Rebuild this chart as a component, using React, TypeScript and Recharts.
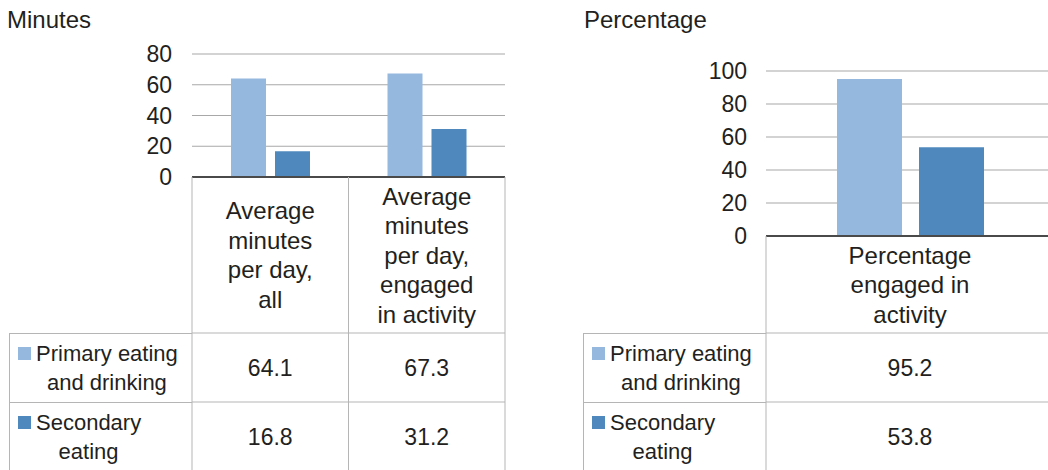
import React from "react";
import { BarChart, Bar, XAxis, YAxis, CartesianGrid } from "recharts";

// Minutes panel
const minuteCategories = [
  ["Average", "minutes", "per day,", "all"],
  ["Average", "minutes", "per day,", "engaged", "in activity"],
];
const minutePrimary = [64.1, 67.3];
const minuteSecondary = [16.8, 31.2];
const minuteTicks = [0, 20, 40, 60, 80];

// Percentage panel
const percentCategories = [["Percentage", "engaged in", "activity"]];
const percentPrimary = [95.2];
const percentSecondary = [53.8];
const percentTicks = [0, 20, 40, 60, 80, 100];

const seriesLabels = [
  ["Primary eating", "and drinking"],
  ["Secondary", "eating"],
];

const LIGHT = "#95b8df";
const DARK = "#4f88bc";
const TEXT = "#231f20";
const GRID = "#a8a8a8";
const AXIS = "#4a4a4a";
const RULE = "#b5b5b5";
const FONT = "'Liberation Sans', Arial, Helvetica, sans-serif";

const H = 470;
const TABLE_TOP = 333;
const ROW_H = 69;
const HEAD_LINE = 29.5;

type Row = { name: string; lines: string[]; primary: number; secondary: number };

function buildRows(cats: string[][], a: number[], b: number[]): Row[] {
  return cats.map((lines, i) => ({
    name: lines.join(" "),
    lines,
    primary: a[i],
    secondary: b[i],
  }));
}

// x-axis tick that draws the category header and the value cells beneath it
function makeTableTick(rows: Row[], band: number) {
  return function TableTick(props: any) {
    const { x, y, payload } = props;
    const row = rows.find((r) => r.name === payload.value);
    if (!row) return null;
    const l = x - band / 2;
    const r = x + band / 2;
    const mid = (y + TABLE_TOP) / 2;
    const n = row.lines.length;
    return (
      <g>
        <line x1={l} x2={l} y1={y} y2={H + 10} stroke={RULE} />
        <line x1={r} x2={r} y1={y} y2={H + 10} stroke={RULE} />
        {[0, 1, 2].map((k) => (
          <line
            key={k}
            x1={l}
            x2={r}
            y1={TABLE_TOP + k * ROW_H}
            y2={TABLE_TOP + k * ROW_H}
            stroke={RULE}
          />
        ))}
        {row.lines.map((t, i) => (
          <text
            key={i}
            x={x}
            y={mid + (i - (n - 1) / 2) * HEAD_LINE}
            dy="0.355em"
            textAnchor="middle"
            fill={TEXT}
            fontSize={24}
          >
            {t}
          </text>
        ))}
        {[row.primary, row.secondary].map((v, i) => (
          <text
            key={"v" + i}
            x={x}
            y={TABLE_TOP + ROW_H * (i + 0.5)}
            dy="0.355em"
            textAnchor="middle"
            fill={TEXT}
            fontSize={23}
          >
            {v.toFixed(1)}
          </text>
        ))}
      </g>
    );
  };
}

function LegendColumn({ left, width }: { left: number; width: number }) {
  const colors = [LIGHT, DARK];
  return (
    <div style={{ position: "absolute", left, top: TABLE_TOP, width }}>
      {seriesLabels.map((lines, i) => (
        <div
          key={i}
          style={{
            height: ROW_H,
            boxSizing: "border-box",
            borderTop: `1px solid ${RULE}`,
            borderLeft: `1px solid ${RULE}`,
            display: "flex",
            alignItems: "flex-start",
            paddingLeft: 8,
          }}
        >
          <div
            style={{
              width: 13,
              height: 13,
              background: colors[i],
              marginTop: 13,
              marginRight: 5,
              flex: "none",
            }}
          />
          <div
            style={{
              fontSize: 22,
              lineHeight: "29px",
              textAlign: "center",
              paddingTop: 5,
              color: TEXT,
            }}
          >
            {lines.map((t, k) => (
              <div key={k}>{t}</div>
            ))}
          </div>
        </div>
      ))}
    </div>
  );
}

export default function App() {
  const minuteRows = buildRows(minuteCategories, minutePrimary, minuteSecondary);
  const percentRows = buildRows(percentCategories, percentPrimary, percentSecondary);

  // left panel geometry
  const lW = 520;
  const lYW = 192;
  const lRight = 15;
  const lTop = 54;
  const lAxis = 177;
  const lBand = (lW - lYW - lRight) / minuteRows.length;

  // right panel geometry
  const rLeft = 520;
  const rW = 540;
  const rYW = 246;
  const rRight = 6;
  const rTop = 71;
  const rAxis = 236;
  const rBand = (rW - rYW - rRight) / percentRows.length;

  return (
    <div
      style={{
        position: "absolute",
        left: 0,
        top: 0,
        width: 1048,
        height: H,
        overflow: "hidden",
        background: "#fff",
        fontFamily: FONT,
        color: TEXT,
      }}
    >
      <div style={{ position: "absolute", left: 7, top: 8, fontSize: 24, lineHeight: "24px" }}>
        Minutes
      </div>
      <div style={{ position: "absolute", left: 584, top: 8, fontSize: 24, lineHeight: "24px" }}>
        Percentage
      </div>

      <div style={{ position: "absolute", left: 0, top: 0 }}>
        <BarChart
          width={lW}
          height={H}
          data={minuteRows}
          margin={{ top: lTop, right: lRight, left: 0, bottom: 0 }}
          barSize={35}
          barGap={9}
        >
          <CartesianGrid vertical={false} stroke={GRID} strokeWidth={1.2} />
          <YAxis
            domain={[0, 80]}
            ticks={minuteTicks}
            interval={0}
            width={lYW}
            axisLine={false}
            tickLine={false}
            tickSize={0}
            tickMargin={20}
            tick={{ fill: TEXT, fontSize: 23 }}
          />
          <XAxis
            dataKey="name"
            height={H - lAxis}
            interval={0}
            tickLine={false}
            tickSize={0}
            tickMargin={0}
            axisLine={{ stroke: AXIS, strokeWidth: 2 }}
            tick={makeTableTick(minuteRows, lBand)}
          />
          <Bar dataKey="primary" fill={LIGHT} isAnimationActive={false} />
          <Bar dataKey="secondary" fill={DARK} isAnimationActive={false} />
        </BarChart>
      </div>
      <LegendColumn left={9} width={lYW - 9} />

      <div style={{ position: "absolute", left: rLeft, top: 0 }}>
        <BarChart
          width={rW}
          height={H}
          data={percentRows}
          margin={{ top: rTop, right: rRight, left: 0, bottom: 0 }}
          barSize={65}
          barGap={17}
        >
          <CartesianGrid vertical={false} stroke={GRID} strokeWidth={1.2} />
          <YAxis
            domain={[0, 100]}
            ticks={percentTicks}
            interval={0}
            width={rYW}
            axisLine={false}
            tickLine={false}
            tickSize={0}
            tickMargin={19}
            tick={{ fill: TEXT, fontSize: 23 }}
          />
          <XAxis
            dataKey="name"
            height={H - rAxis}
            interval={0}
            tickLine={false}
            tickSize={0}
            tickMargin={0}
            axisLine={{ stroke: AXIS, strokeWidth: 2 }}
            tick={makeTableTick(percentRows, rBand)}
          />
          <Bar dataKey="primary" fill={LIGHT} isAnimationActive={false} />
          <Bar dataKey="secondary" fill={DARK} isAnimationActive={false} />
        </BarChart>
      </div>
      <LegendColumn left={583} width={rLeft + rYW - 583} />
    </div>
  );
}
